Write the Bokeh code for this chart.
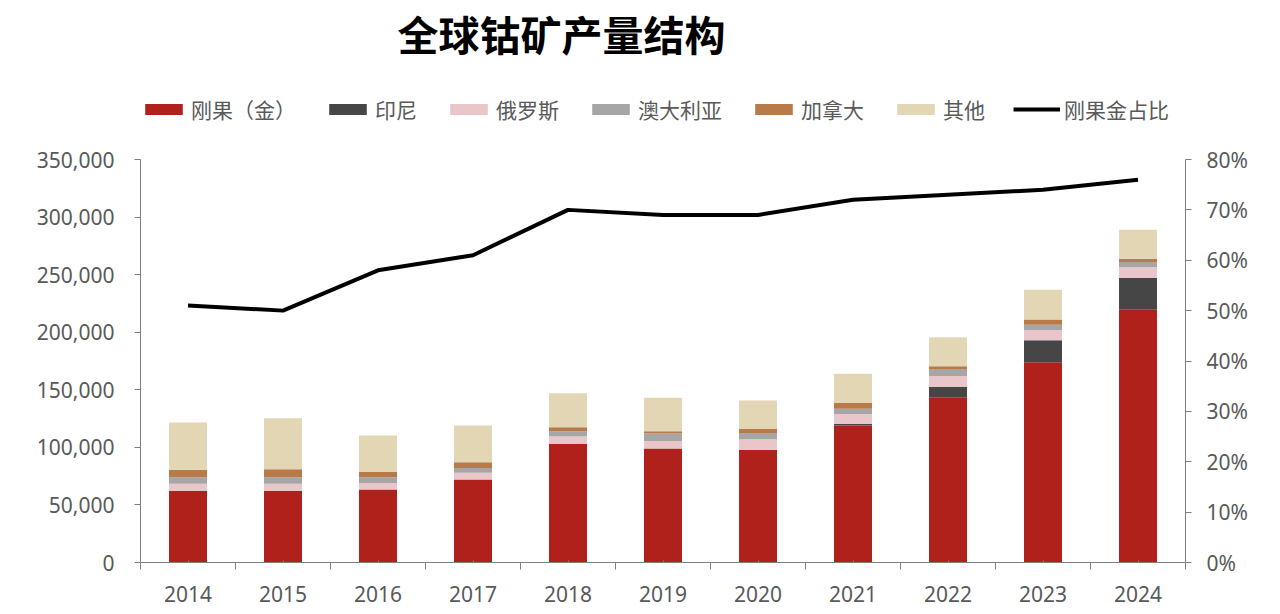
from bokeh.plotting import figure
from bokeh.models import (ColumnDataSource, LinearAxis, Range1d, FixedTicker,
                          NumeralTickFormatter, Legend, LegendItem, Label)
from bokeh.embed import file_html
from bokeh.resources import INLINE

years = [2014, 2015, 2016, 2017, 2018, 2019, 2020, 2021, 2022, 2023, 2024]
# tonnes
congo = [62000, 62000, 63500, 72000, 103000, 99000, 98000, 119000, 143500, 174000, 219500]
indonesia = [0, 0, 0, 0, 0, 0, 0, 1500, 9000, 19000, 27500]
russia = [6500, 6500, 5500, 6000, 6500, 6500, 9000, 8500, 9500, 9000, 9500]
australia = [5500, 5500, 5000, 4000, 4500, 6500, 5500, 4500, 6000, 4500, 4500]
canada = [6500, 7000, 4500, 5000, 3500, 2000, 3500, 5000, 2500, 4500, 2800]
other = [41000, 44300, 31800, 32000, 29500, 29000, 24700, 25500, 25200, 25800, 25200]
congo_share = [0.51, 0.50, 0.58, 0.61, 0.70, 0.69, 0.69, 0.72, 0.73, 0.74, 0.76]

series = ["congo", "indonesia", "russia", "australia", "canada", "other"]
labels = ["刚果（金）", "印尼", "俄罗斯", "澳大利亚", "加拿大", "其他"]
colours = ["#B0211B", "#464646", "#E8C6CA", "#A6A6A6", "#B97A4A", "#E3D6B5"]
title = "全球钴矿产量结构"

src = ColumnDataSource(dict(years=years, congo=congo, indonesia=indonesia, russia=russia,
                            australia=australia, canada=canada, other=other))

font = "Noto Sans CJK SC"
grey = "#595959"

# the frame runs up to the top of the canvas so the legend and title can sit inside it;
# the axes are bounded so they stop at 350,000 / 80%
frame_h, axis_h = 562, 403
p = figure(width=1264, height=606, output_backend="svg", toolbar_location=None,
           x_range=Range1d(2013.5, 2024.5), y_range=Range1d(0, 350000 * frame_h / axis_h),
           min_border_left=140, min_border_right=79, min_border_top=0, min_border_bottom=44)
p.extra_y_ranges = {"pct": Range1d(0, 0.8 * frame_h / axis_h)}
p.outline_line_color = None
p.xgrid.grid_line_color = None
p.ygrid.grid_line_color = None

bars = p.vbar_stack(series, x="years", width=0.4, source=src, color=colours, line_color=None)
ln = p.line(years, congo_share, y_range_name="pct", line_width=4, color="black")

# axes
p.yaxis.ticker = FixedTicker(ticks=list(range(0, 350001, 50000)))
p.yaxis.formatter = NumeralTickFormatter(format="0,0")
p.yaxis.bounds = (0, 350000)
p.xaxis.ticker = FixedTicker(ticks=years, minor_ticks=[y + 0.5 for y in range(2013, 2025)])
p.xaxis.major_tick_out = 0
p.xaxis.minor_tick_out = 7
p.xaxis.minor_tick_in = 0
p.xaxis.major_label_standoff = 16

right = LinearAxis(y_range_name="pct", ticker=FixedTicker(ticks=[i / 10 for i in range(9)]),
                   formatter=NumeralTickFormatter(format="0%"), bounds=(0, 0.8))
p.add_layout(right, "right")

for ax in [p.xaxis[0], p.yaxis[0], right]:
    ax.axis_line_color = "#7F7F7F"
    ax.major_tick_line_color = "#7F7F7F"
    ax.minor_tick_line_color = "#7F7F7F"
    ax.major_label_text_font = "Noto Sans"
    ax.major_label_text_font_size = "21px"
    ax.major_label_text_color = grey
for ax in [p.yaxis[0], right]:
    ax.major_tick_in = 0
    ax.major_tick_out = 6
    ax.minor_tick_out = 0
    ax.minor_tick_in = 0
p.yaxis.major_label_standoff = 20
right.major_label_standoff = 15

items = [LegendItem(label=l, renderers=[r]) for l, r in zip(labels, bars)]
items.append(LegendItem(label="刚果金占比", renderers=[ln]))
leg = Legend(items=items, orientation="horizontal", location=(0, 438),
             glyph_width=47, glyph_height=14, label_standoff=4, spacing=28,
             label_text_font=font, label_text_font_size="21px", label_text_color=grey,
             padding=0, margin=0, border_line_color=None, background_fill_alpha=0)
p.add_layout(leg, "center")

p.add_layout(Label(x=257, y=530, x_units="screen", y_units="screen", text=title,
                   text_font=font, text_font_size="41px", text_font_style="bold",
                   text_color="black", text_baseline="middle", text_align="left"))

open("out.html", "w").write(file_html(p, INLINE))
